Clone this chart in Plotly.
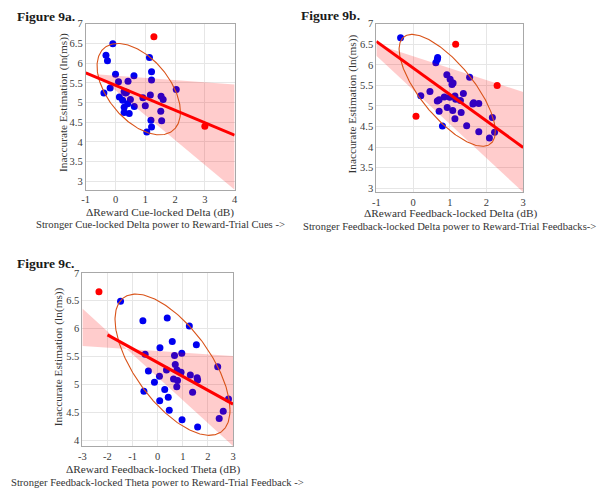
import numpy as np
import plotly.graph_objects as go

# ---- Figure 9a: Cue-locked Delta ----
a_blue_x = [-0.09, -0.32, -0.27, 1.14, 1.21, 1.21, 0.00, 0.62, 0.10, 0.42, 2.04, -0.39,
            -0.18, 0.13, 0.24, 0.29, 0.37, 0.34, 0.50, 0.41, 0.63, 0.29, 0.29, 0.46,
            0.92, 1.00, 1.17, 1.53, 1.60, 1.52, 1.55, 1.19, 1.21, 1.05]
a_blue_y = [6.49, 6.20, 6.06, 6.14, 5.78, 5.57, 5.72, 5.68, 5.53, 5.54, 5.33, 5.24,
            5.37, 5.14, 5.06, 5.28, 5.26, 5.24, 5.08, 4.97, 4.90, 4.88, 4.75, 4.72,
            5.12, 4.92, 5.19, 5.16, 5.08, 4.78, 4.54, 4.55, 4.38, 4.25]
a_red_x = [1.29, 3.00]
a_red_y = [6.67, 4.40]
a_fit_x = [-1, 4]
a_fit_y = [5.75, 4.17]
a_band_x = [-0.65, 4]
a_band_hi = [5.72, 5.46]
a_band_lo = [5.72, 2.79]
a_ell = dict(cx=0.78, cy=5.34, hw=1.40, hh=1.16, rho=-0.50)

# ---- Figure 9b: Feedback-locked Delta ----
b_blue_x = [-0.34, 0.67, 0.66, 0.62, 0.92, 1.01, 1.09, 1.06, 1.54, 0.21, 0.46, 0.85,
            1.00, 1.14, 1.16, 1.37, 1.29, 0.66, 0.71, 0.93, 1.63, 1.79, 0.71, 1.08,
            1.14, 1.31, 0.80, 1.46, 1.79, 2.08, 2.16, 2.22, 1.65]
b_blue_y = [6.66, 6.18, 6.13, 6.05, 5.76, 5.65, 5.56, 5.52, 5.70, 5.25, 5.35, 5.22,
            5.21, 5.24, 5.16, 5.30, 5.13, 5.12, 5.15, 4.96, 5.05, 5.06, 4.87, 4.89,
            4.69, 4.84, 4.51, 4.52, 4.37, 4.22, 4.72, 4.36, 5.08]
b_red_x = [1.16, 0.08, 2.29]
b_red_y = [6.50, 4.75, 5.50]
b_fit_x = [-1, 3]
b_fit_y = [6.57, 3.99]
b_band_x = [-1, 3]
b_band_hi = [6.50, 5.34]
b_band_lo = [6.22, 2.90]
b_ell = dict(cx=0.93, cy=5.38, hw=1.31, hh=1.36, rho=-0.735)

# ---- Figure 9c: Feedback-locked Theta ----
c_blue_x = [-1.48, -0.59, 0.38, 1.26, 0.09, 0.58, 1.54, -0.50, 0.67, 0.96, 0.70, -0.37,
            0.35, 0.77, 0.93, 1.30, 1.57, 1.59, 0.07, -0.13, 0.63, 0.79, 0.76, 1.39,
            -0.55, 0.28, 0.42, 0.08, 0.46, 0.97, 1.59, 2.39, 2.82, 2.61, 2.45]
c_blue_y = [6.49, 6.14, 6.19, 6.05, 5.66, 5.77, 5.71, 5.54, 5.52, 5.56, 5.36, 5.24,
            5.26, 5.26, 5.22, 5.17, 5.12, 5.08, 5.15, 5.04, 5.10, 5.07, 4.96, 4.86,
            4.88, 4.91, 4.77, 4.71, 4.54, 4.37, 4.24, 5.32, 4.74, 4.52, 4.39]
c_red_x = [-2.34]
c_red_y = [6.66]
c_fit_x = [-2, 3]
c_fit_y = [5.89, 4.65]
c_band_x = [-3, 3]
c_band_hi = [6.36, 3.90]
c_band_lo = [5.69, 5.51]
c_ell = dict(cx=0.59, cy=5.355, hw=2.29, hh=1.265, rho=-0.64)

y_title = "Inaccurate Estimation (ln(ms))"

SERIF = "Liberation Serif"
BLUE = "#0000F0"
RED = "#FF0000"
ELL = "#D95319"


def ellipse(cx, cy, hw, hh, rho, n=241):
    t = np.linspace(0, 2 * np.pi, n)
    return cx + hw * np.cos(t), cy + hh * np.cos(t - np.arccos(rho))


panels = [
    dict(bx=a_blue_x, by=a_blue_y, rx=a_red_x, ry=a_red_y, fx=a_fit_x, fy=a_fit_y,
         band_x=a_band_x, hi=a_band_hi, lo=a_band_lo, ell=a_ell, ax="x", ay="y"),
    dict(bx=b_blue_x, by=b_blue_y, rx=b_red_x, ry=b_red_y, fx=b_fit_x, fy=b_fit_y,
         band_x=b_band_x, hi=b_band_hi, lo=b_band_lo, ell=b_ell, ax="x2", ay="y2"),
    dict(bx=c_blue_x, by=c_blue_y, rx=c_red_x, ry=c_red_y, fx=c_fit_x, fy=c_fit_y,
         band_x=c_band_x, hi=c_band_hi, lo=c_band_lo, ell=c_ell, ax="x3", ay="y3"),
]

fig = go.Figure()
for p in panels:
    ex, ey = ellipse(**p["ell"])
    fig.add_trace(go.Scatter(x=p["bx"], y=p["by"], mode="markers", xaxis=p["ax"], yaxis=p["ay"],
                             marker=dict(size=7, color=BLUE, line=dict(width=0))))
    fig.add_trace(go.Scatter(x=p["rx"], y=p["ry"], mode="markers", xaxis=p["ax"], yaxis=p["ay"],
                             marker=dict(size=7, color=RED, line=dict(width=0))))
    bx = p["band_x"]
    fig.add_trace(go.Scatter(x=[bx[0], bx[1], bx[1], bx[0], bx[0]],
                             y=[p["hi"][0], p["hi"][1], p["lo"][1], p["lo"][0], p["hi"][0]],
                             mode="lines", fill="toself", fillcolor="rgba(255,0,0,0.2)",
                             line=dict(width=0), xaxis=p["ax"], yaxis=p["ay"]))
    fig.add_trace(go.Scatter(x=ex, y=ey, mode="lines", line=dict(color=ELL, width=1.1),
                             xaxis=p["ax"], yaxis=p["ay"]))
    fig.add_trace(go.Scatter(x=p["fx"], y=p["fy"], mode="lines", line=dict(color=RED, width=3),
                             xaxis=p["ax"], yaxis=p["ay"]))


def xax(domain, rng, vals, anchor):
    return dict(domain=domain, range=rng, tickvals=vals, ticktext=[str(v) for v in vals],
                anchor=anchor, showgrid=True, gridcolor="#E6E6E6", gridwidth=1,
                showline=True, mirror=True, linecolor="#A8A8A8", linewidth=1,
                zeroline=False, ticks="", tickfont=dict(family=SERIF, size=10.5, color="#3A3A3A"))


def yax(domain, rng, vals, anchor):
    d = xax(domain, rng, vals, anchor)
    d["ticktext"] = [("%g" % v) for v in vals]
    return d


y_ticks_full = [3, 3.5, 4, 4.5, 5, 5.5, 6, 6.5, 7]
y_ticks_c = [4, 4.5, 5, 5.5, 6, 6.5, 7]

fig.update_layout(
    width=604, height=493, margin=dict(l=0, r=0, t=0, b=0),
    paper_bgcolor="white", plot_bgcolor="white", showlegend=False,
    xaxis=xax([0.1369, 0.3863], [-1, 4], [-1, 0, 1, 2, 3, 4], "y"),
    yaxis=yax([0.6201, 0.9615], [2.79, 7], y_ticks_full, "x"),
    xaxis2=xax([0.6237, 0.8697], [-1, 3], [-1, 0, 1, 2, 3], "y2"),
    yaxis2=yax([0.6146, 0.9615], [2.90, 7], y_ticks_full, "x2"),
    xaxis3=xax([0.1313, 0.3836], [-3, 3], [-3, -2, -1, 0, 1, 2, 3], "y3"),
    yaxis3=yax([0.0927, 0.4489], [3.90, 7], y_ticks_c, "x3"),
)

H = 493.0
W = 604.0


def note(text, px, py, size=11, bold=False, anchor="center", angle=0):
    fig.add_annotation(text=("<b>%s</b>" % text) if bold else text,
                       x=px / W, y=1 - py / H, xref="paper", yref="paper",
                       xanchor=anchor, yanchor="middle", showarrow=False, textangle=angle,
                       borderpad=0,
                       font=dict(family=SERIF, size=size, color="#1A1A1A" if bold else "#333333"))


note("Figure 9a.", 12, 12, size=13.5, bold=True, anchor="left")
note("Figure 9b.", 299, 11, size=13.5, bold=True, anchor="left")
note("Figure 9c.", 12, 262, size=13.5, bold=True, anchor="left")

note("\u0394Reward Cue-locked Delta (dB)", 158, 210, size=11.3)
note("Stronger Cue-locked Delta power to Reward-Trial Cues ->", 158, 223, size=10.6)
note("\u0394Reward Feedback-locked Delta (dB)", 452, 212, size=11.3)
note("Stronger Feedback-locked Delta power to Reward-Trial Feedbacks->", 451, 225, size=10.6)
note("\u0394Reward Feedback-locked Theta (dB)", 151, 471, size=11.3)
note("Stronger Feedback-locked Theta power to Reward-Trial Feedback ->", 155, 484, size=10.6)

note(y_title, 60, 99, size=11.3, angle=-90)
note(y_title, 353, 100, size=11.3, angle=-90)
note(y_title, 56, 357, size=11.3, angle=-90)

fig.write_html("out.html", config={"displayModeBar": False},
               post_script="document.body.style.margin='0';")
